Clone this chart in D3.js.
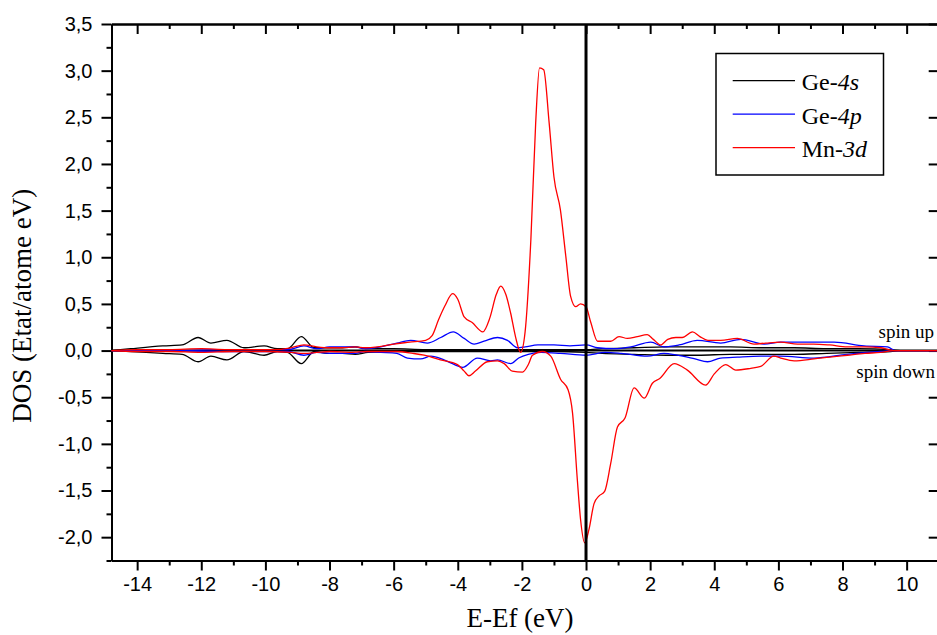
<!DOCTYPE html>
<html>
<head>
<meta charset="utf-8">
<script src="https://cdn.jsdelivr.net/npm/d3@7"></script>
<style>
  body { margin: 0; background: #fff; }
  .tick text { font-family: "Liberation Sans", Arial, sans-serif; font-size: 20px; fill: #000; }
  .axis path, .axis line { stroke: #000; stroke-width: 2; }
  .serif { font-family: "Liberation Serif", "Times New Roman", serif; fill: #000; }
</style>
</head>
<body>
<svg id="chart" width="937" height="635"></svg>
<script>
// Axis ticks
var xMajor = [-14, -12, -10, -8, -6, -4, -2, 0, 2, 4, 6, 8, 10];
var xMinor = [-13, -11, -9, -7, -5, -3, -1, 1, 3, 5, 7, 9, 11];
var yMajor = [-2.0, -1.5, -1.0, -0.5, 0.0, 0.5, 1.0, 1.5, 2.0, 2.5, 3.0, 3.5];
var yMinor = [-2.25, -1.75, -1.25, -0.75, -0.25, 0.25, 0.75, 1.25, 1.75, 2.25, 2.75, 3.25];

// Legend
var legendPrefix = ["Ge-", "Ge-", "Mn-"];
var legendOrbital = ["4s", "4p", "3d"];
var seriesColors = ["#000000", "#0000ff", "#ff0000"];

// DOS curves, [E - Ef (eV), DOS]
var ge4sUp = [[-14.8,0],[-14.2,0.02],[-13.2,0.05],[-12.6,0.06],[-12.1,0.14],[-11.7,0.08],[-11.2,0.11],[-10.67,0.03],[-10.04,0.05],[-9.63,0.02],[-9.31,0.02],[-8.88,0.15],[-8.48,0.03],[-8.07,0.03],[-7.6,0.03],[-7.2,0.04],[-6.8,0.02],[-6.0,0.02],[-5.0,0.01],[-4,0.01],[-3,0.01],[-2,0.01],[-1,0.01],[0,0.01],[0.5,0.02],[1.5,0.03],[2.5,0.04],[3.5,0.04],[4.5,0.04],[5.5,0.03],[6.5,0.03],[7.5,0.02],[8.5,0.02],[9.5,0.01],[9.8,0],[11,0]];
var ge4sDown = [[-14.8,0],[-14.2,-0.01],[-13.2,-0.03],[-12.6,-0.04],[-12.1,-0.12],[-11.7,-0.06],[-11.2,-0.10],[-10.67,-0.01],[-10.04,-0.05],[-9.63,-0.01],[-9.31,-0.02],[-8.88,-0.14],[-8.48,-0.01],[-8.07,-0.03],[-7.6,-0.03],[-7.2,-0.04],[-6.8,-0.02],[-6,-0.01],[-5,-0.01],[-4,-0.01],[-3,-0.01],[-2,-0.01],[-1,-0.01],[0,-0.02],[0.5,-0.03],[1.5,-0.04],[2.5,-0.05],[3.5,-0.05],[4.5,-0.04],[5.5,-0.04],[6.5,-0.04],[7.5,-0.03],[8.5,-0.02],[9.5,-0.01],[9.8,0],[11,0]];
var ge4pUp = [[-14.8,0],[-13,0],[-11.2,0.01],[-10,0.01],[-9.3,0.01],[-8.8,0.05],[-8.4,0.02],[-8,0.04],[-7.6,0.04],[-7.2,0.04],[-6.9,0.02],[-6.4,0.04],[-5.9,0.08],[-5.47,0.11],[-4.95,0.08],[-4.53,0.14],[-4.14,0.20],[-3.8,0.13],[-3.49,0.07],[-3.18,0.10],[-2.76,0.14],[-2.45,0.11],[-2.14,0.03],[-1.9,0.04],[-1.5,0.06],[-1.0,0.06],[-0.5,0.05],[0,0.06],[0.36,0.03],[0.87,0.02],[1.4,0.04],[2.02,0.09],[2.43,0.04],[2.9,0.06],[3.47,0.11],[4.2,0.08],[4.83,0.12],[5.55,0.07],[6.07,0.09],[7.11,0.09],[7.74,0.09],[8.67,0.05],[9.4,0.04],[9.65,0],[11,0]];
var ge4pDown = [[-14.8,0],[-13,0],[-11.2,-0.01],[-10,-0.01],[-9.3,-0.01],[-8.8,-0.05],[-8.4,-0.02],[-8,-0.03],[-7.2,-0.03],[-6.9,-0.01],[-6.4,-0.02],[-5.9,-0.03],[-5.57,-0.08],[-5.16,-0.09],[-4.84,-0.06],[-4.43,-0.10],[-4.1,-0.15],[-3.85,-0.18],[-3.39,-0.08],[-2.97,-0.11],[-2.76,-0.10],[-2.35,-0.14],[-2.1,-0.08],[-1.8,-0.04],[-1.4,-0.02],[-0.8,-0.03],[0,-0.05],[0.6,-0.02],[1.1,-0.03],[1.91,-0.06],[2.43,-0.03],[2.85,-0.05],[3.4,-0.09],[3.79,-0.12],[4.2,-0.08],[4.72,-0.07],[5.45,-0.06],[6.07,-0.06],[7.11,-0.08],[8.15,-0.04],[9.2,-0.01],[9.6,0],[11,0]];
var mn3dUp = [[-14.8,0],[-14,0.01],[-13,0.01],[-12,0.02],[-11.2,0.01],[-10.5,0.01],[-9.8,0.01],[-9.2,0.03],[-8.8,0.06],[-8.4,0.04],[-8,0.03],[-7.6,0.03],[-7.2,0.04],[-6.9,0.03],[-6.5,0.04],[-6,0.07],[-5.5,0.09],[-5,0.11],[-4.8,0.16],[-4.6,0.33],[-4.4,0.48],[-4.16,0.61],[-4.0,0.55],[-3.8,0.36],[-3.55,0.30],[-3.22,0.20],[-3.0,0.35],[-2.8,0.6],[-2.66,0.69],[-2.5,0.6],[-2.35,0.40],[-2.2,0.15],[-2.04,-0.02],[-1.9,0.2],[-1.72,1.19],[-1.57,2.44],[-1.45,3.03],[-1.32,3.01],[-1.15,2.44],[-1.0,1.86],[-0.8,1.51],[-0.63,1.01],[-0.48,0.58],[-0.32,0.47],[-0.17,0.50],[0,0.47],[0.15,0.30],[0.36,0.10],[0.77,0.10],[1.03,0.15],[1.29,0.13],[1.6,0.15],[1.91,0.17],[2.1,0.12],[2.33,0.06],[2.55,0.12],[2.8,0.14],[3.0,0.14],[3.32,0.20],[3.55,0.15],[3.8,0.11],[4.2,0.11],[4.72,0.13],[5.24,0.07],[5.6,0.08],[6.07,0.09],[6.6,0.07],[7.1,0.07],[7.6,0.06],[8.15,0.04],[8.7,0.04],[9.2,0.03],[9.6,0],[11,0]];
var mn3dDown = [[-14.8,0],[-14,-0.01],[-13,-0.01],[-12,-0.02],[-11,-0.01],[-10,-0.01],[-9.2,-0.02],[-8.8,-0.03],[-8.4,-0.02],[-8,-0.01],[-7.3,-0.02],[-6.8,-0.01],[-6.2,-0.01],[-5.9,-0.01],[-5.4,-0.03],[-5.05,-0.05],[-4.54,-0.10],[-4.01,-0.15],[-3.8,-0.22],[-3.65,-0.27],[-3.45,-0.22],[-3.08,-0.12],[-2.76,-0.11],[-2.55,-0.14],[-2.3,-0.22],[-1.98,-0.23],[-1.8,-0.15],[-1.67,-0.05],[-1.36,-0.01],[-1.1,-0.06],[-0.79,-0.31],[-0.56,-0.42],[-0.42,-0.67],[-0.27,-1.39],[-0.17,-1.81],[-0.04,-2.06],[0.09,-1.92],[0.25,-1.64],[0.4,-1.56],[0.58,-1.51],[0.77,-1.21],[0.98,-0.82],[1.22,-0.72],[1.5,-0.40],[1.82,-0.51],[2.07,-0.35],[2.3,-0.30],[2.75,-0.14],[3.16,-0.21],[3.73,-0.37],[4.0,-0.25],[4.36,-0.15],[4.67,-0.21],[5.14,-0.19],[5.45,-0.17],[5.86,-0.06],[6.07,-0.08],[6.49,-0.11],[7.11,-0.09],[7.6,-0.07],[8.15,-0.05],[8.7,-0.03],[9.19,-0.02],[9.6,0],[11,0]];

var svg = d3.select("#chart"),
    mLeft = 111.5, mTop = 24, mRight = 938.7, mBottom = 560.5;

var x = d3.scaleLinear().domain([-14.8, 11]).range([mLeft, mRight]);
var y = d3.scaleLinear().domain([-2.25, 3.5]).range([mBottom, mTop]);

// Origin style labels: comma decimals and a plain hyphen for negatives
var fmtX = function (d) { return String(d); };
var fmtY = function (d) { return d.toFixed(1).replace(".", ","); };

// bottom axis
svg.append("g").attr("class", "axis")
    .attr("transform", "translate(0," + mBottom + ")")
    .call(d3.axisBottom(x).tickValues(xMajor).tickSize(10).tickSizeOuter(0).tickPadding(6).tickFormat(fmtX));
svg.append("g").attr("class", "axis")
    .attr("transform", "translate(0," + mBottom + ")")
    .call(d3.axisBottom(x).tickValues(xMinor).tickSize(5).tickSizeOuter(0).tickFormat(""));

// top axis, ticks pointing in
svg.append("g").attr("class", "axis")
    .attr("transform", "translate(0," + mTop + ")")
    .call(d3.axisBottom(x).tickValues(xMajor).tickSize(10).tickSizeOuter(0).tickFormat(""));
svg.append("g").attr("class", "axis")
    .attr("transform", "translate(0," + mTop + ")")
    .call(d3.axisBottom(x).tickValues(xMinor).tickSize(5).tickSizeOuter(0).tickFormat(""));

// left axis
svg.append("g").attr("class", "axis")
    .attr("transform", "translate(" + mLeft + ",0)")
    .call(d3.axisLeft(y).tickValues(yMajor).tickSize(10).tickSizeOuter(0).tickPadding(9).tickFormat(fmtY));
svg.append("g").attr("class", "axis")
    .attr("transform", "translate(" + mLeft + ",0)")
    .call(d3.axisLeft(y).tickValues(yMinor).tickSize(5).tickSizeOuter(0).tickFormat(""));

// right axis (mostly off the page)
svg.append("g").attr("class", "axis")
    .attr("transform", "translate(" + mRight + ",0)")
    .call(d3.axisLeft(y).tickValues(yMajor).tickSize(10).tickSizeOuter(0).tickFormat(""));

// zero line
svg.append("line")
    .attr("x1", mLeft).attr("x2", mRight)
    .attr("y1", y(0)).attr("y2", y(0))
    .attr("stroke", "#000").attr("stroke-width", 2);

var line = d3.line()
    .curve(d3.curveMonotoneX)
    .x(function (d) { return x(d[0]); })
    .y(function (d) { return y(d[1]); });

var series = [
    {data: ge4sUp, c: 0}, {data: ge4sDown, c: 0},
    {data: ge4pUp, c: 1}, {data: ge4pDown, c: 1},
    {data: mn3dUp, c: 2}, {data: mn3dDown, c: 2}
];

svg.append("g").selectAll("path")
    .data(series)
    .enter()
    .append("path")
    .attr("d", function (d) { return line(d.data); })
    .attr("fill", "none")
    .attr("stroke", function (d) { return seriesColors[d.c]; })
    .attr("stroke-width", 1.3);

// Fermi level
svg.append("line")
    .attr("x1", x(0)).attr("x2", x(0))
    .attr("y1", mTop).attr("y2", mBottom)
    .attr("stroke", "#000").attr("stroke-width", 3);

// axis titles
svg.append("text").attr("class", "serif")
    .attr("x", 520).attr("y", 627)
    .attr("text-anchor", "middle")
    .style("font-size", "27px")
    .text("E-Ef (eV)");
svg.append("text").attr("class", "serif")
    .attr("transform", "translate(31," + y(0.48) + ") rotate(-90)")
    .attr("text-anchor", "middle")
    .style("font-size", "27px")
    .text("DOS (Etat/atome eV)");

// legend
var legend = svg.append("g");
legend.append("rect")
    .attr("x", 716).attr("y", 53.5)
    .attr("width", 167.5).attr("height", 121.5)
    .attr("fill", "#fff").attr("stroke", "#000").attr("stroke-width", 1.5);
legendPrefix.forEach(function (p, i) {
    var ly = 80.7 + i * 33.5;
    legend.append("line")
        .attr("x1", 732.7).attr("x2", 795)
        .attr("y1", ly).attr("y2", ly)
        .attr("stroke", seriesColors[i]).attr("stroke-width", 1.3);
    var t = legend.append("text").attr("class", "serif")
        .attr("x", 801.7).attr("y", ly + 9.5)
        .style("font-size", "24px");
    t.append("tspan").text(p);
    t.append("tspan").style("font-style", "italic").text(legendOrbital[i]);
});

// spin labels
svg.append("text").attr("class", "serif")
    .attr("x", 934).attr("y", 337.5).attr("text-anchor", "end")
    .style("font-size", "19px").text("spin up");
svg.append("text").attr("class", "serif")
    .attr("x", 935).attr("y", 377.5).attr("text-anchor", "end")
    .style("font-size", "19px").text("spin down");
</script>
</body>
</html>
